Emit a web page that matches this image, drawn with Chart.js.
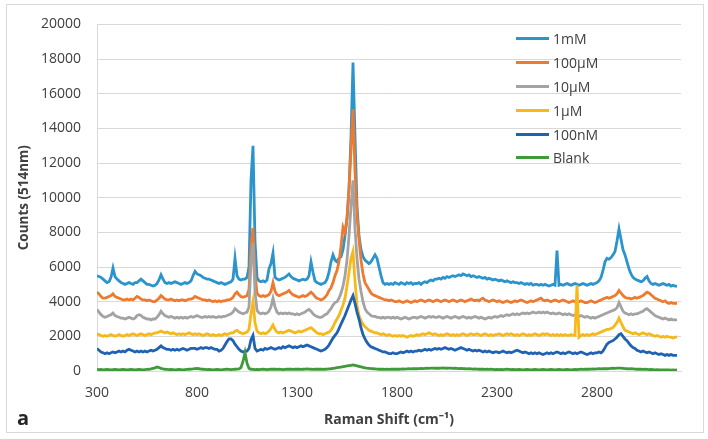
<!DOCTYPE html>
<html>
<head>
<meta charset="utf-8">
<script src="https://cdn.jsdelivr.net/npm/chart.js@4.4.0/dist/chart.umd.min.js"></script>
<style>
  body { margin: 0; background: #fff; font-family: "Open Sans", sans-serif; }
  #wrap { position: relative; width: 708px; height: 439px; }
  #frame { position: absolute; left: 6px; top: 4px; width: 696px; height: 427px; border: 1px solid #d9d9d9; }
  canvas { position: absolute; left: 0; top: 0; }
  #legend { position: absolute; left: 516px; top: 27px; }
  .item { height: 23.8px; display: flex; align-items: center; font-size: 14px; color: #404040; }
  .swatch { width: 33px; height: 3px; margin-right: 4px; }
  #panel { position: absolute; left: 17px; top: 404px; font-size: 20px; font-weight: bold; color: #262626; }
</style>
</head>
<body>
<div id="wrap">
  <div id="frame"></div>
  <canvas id="ramanChart" width="708" height="439"></canvas>
  <div id="legend"></div>
  <div id="panel">a</div>
</div>
<script>
// Raman shift axis (cm-1)
const ramanShift = [
  300,310,320,330,340,350,360,370,380,390,
  400,410,420,430,440,450,460,470,480,490,
  500,510,520,530,540,550,560,570,580,590,
  600,610,620,630,640,650,660,670,680,690,
  700,710,720,730,740,750,760,770,780,790,
  800,810,820,830,840,850,860,870,880,890,
  900,910,920,930,940,950,960,970,980,990,
  1000,1010,1020,1030,1040,1050,1060,1070,1080,1090,
  1100,1110,1120,1130,1140,1150,1160,1170,1180,1190,
  1200,1210,1220,1230,1240,1250,1260,1270,1280,1290,
  1300,1310,1320,1330,1340,1350,1360,1370,1380,1390,
  1400,1410,1420,1430,1440,1450,1460,1470,1480,1490,
  1500,1510,1520,1530,1540,1550,1560,1570,1580,1590,
  1600,1610,1620,1630,1640,1650,1660,1670,1680,1690,
  1700,1710,1720,1730,1740,1750,1760,1770,1780,1790,
  1800,1810,1820,1830,1840,1850,1860,1870,1880,1890,
  1900,1910,1920,1930,1940,1950,1960,1970,1980,1990,
  2000,2010,2020,2030,2040,2050,2060,2070,2080,2090,
  2100,2110,2120,2130,2140,2150,2160,2170,2180,2190,
  2200,2210,2220,2230,2240,2250,2260,2270,2280,2290,
  2300,2310,2320,2330,2340,2350,2360,2370,2380,2390,
  2400,2410,2420,2430,2440,2450,2460,2470,2480,2490,
  2500,2510,2520,2530,2540,2550,2560,2570,2580,2590,
  2600,2610,2620,2630,2640,2650,2660,2670,2680,2690,
  2700,2710,2720,2730,2740,2750,2760,2770,2780,2790,
  2800,2810,2820,2830,2840,2850,2860,2870,2880,2890,
  2900,2910,2920,2930,2940,2950,2960,2970,2980,2990,
  3000,3010,3020,3030,3040,3050,3060,3070,3080,3090,
  3100,3110,3120,3130,3140,3150,3160,3170,3180,3190,
  3200
];

const counts1mM = [
  5500,5450,5400,5300,5200,5100,5150,5400,5950,5450,
  5300,5200,5100,5050,5000,5050,5100,5050,5000,5100,
  5100,5200,5300,5200,5100,5000,5000,4950,4900,4950,
  5050,5250,5550,5300,5100,5050,5100,5050,5100,5150,
  5100,5050,5000,5050,5100,5050,5100,5200,5500,5750,
  5600,5550,5500,5400,5350,5300,5300,5250,5200,5150,
  5100,5050,5100,5050,5000,5050,5100,5150,5300,6500,
  5500,5300,5250,5300,5300,5400,6000,11000,13000,7500,
  5400,5200,5150,5200,5150,5250,5900,6200,6800,5400,
  5300,5250,5300,5350,5400,5500,5600,5450,5350,5300,
  5250,5200,5250,5300,5250,5300,5500,6300,5700,5200,
  5100,5050,5000,5050,5100,5300,5700,6300,6700,6400,
  6300,6500,6600,7000,7800,8800,10500,13500,17800,13500,
  9500,7800,7000,6600,6400,6300,6200,6300,6500,6700,
  6500,6000,5500,5100,5000,5050,5000,5050,5000,5100,
  5050,5000,5100,5050,5000,5100,5050,5100,5000,5050,
  5050,5100,5000,5100,5150,5100,5200,5250,5200,5300,
  5300,5350,5300,5400,5350,5450,5400,5450,5500,5450,
  5500,5550,5500,5600,5550,5500,5550,5450,5500,5450,
  5400,5450,5400,5350,5400,5300,5350,5300,5250,5300,
  5250,5200,5250,5200,5150,5200,5150,5100,5150,5100,
  5100,5050,5100,5050,5000,5050,5000,5050,4950,5000,
  5000,4950,5000,4950,5000,4950,4900,4950,5000,4950,
  6950,4950,5000,4950,5000,5050,5000,4950,5000,5050,
  5000,4950,5000,5050,5000,4950,5000,5050,5000,5050,
  5100,5200,5400,5800,6300,6500,6450,6550,6700,6900,
  7500,8200,7600,7000,6700,6300,5900,5600,5400,5300,
  5250,5200,5150,5200,5350,5450,5200,5050,5000,5050,
  5000,4950,5000,5050,5000,4950,5000,4900,4950,4900,
  4900
];

const counts100uM = [
  4550,4450,4300,4200,4200,4250,4300,4350,4450,4300,
  4250,4200,4150,4100,4100,4150,4100,4150,4100,4200,
  4300,4250,4150,4100,4100,4050,4100,4050,4000,4000,
  4100,4200,4350,4250,4150,4100,4100,4150,4100,4050,
  4100,4050,4100,4100,4050,4100,4150,4150,4200,4300,
  4250,4200,4150,4100,4100,4050,4100,4050,4000,4050,
  4000,4050,4000,4050,4050,4100,4100,4150,4250,4450,
  4550,4400,4300,4250,4300,4350,4700,7200,8250,5600,
  4500,4350,4300,4350,4300,4350,4400,4600,5100,4600,
  4400,4350,4400,4450,4500,4550,4650,4500,4400,4350,
  4300,4250,4300,4350,4300,4350,4450,4550,4450,4300,
  4200,4150,4100,4150,4250,4400,4650,4800,5100,5500,
  5800,6300,7200,8300,8000,8800,10500,12800,15100,11500,
  9000,7600,6400,5600,5100,4900,4700,4500,4400,4350,
  4300,4250,4200,4150,4100,4100,4050,4100,4050,4000,
  4000,4050,4000,3950,4000,4050,4000,3950,4000,4050,
  4000,4050,4100,4050,4000,4050,4100,4050,4000,4050,
  4100,4050,4000,4050,4100,4050,4000,4050,4100,4050,
  4000,4050,4100,4050,4000,4050,4100,4150,4100,4050,
  4100,4050,4150,4200,4100,4050,4000,4050,4100,4050,
  4000,4050,4000,3950,4000,4050,4000,3950,4000,4050,
  4000,4050,4100,4050,4000,3950,4000,4050,4000,4050,
  4100,4150,4200,4100,4050,4100,4050,4000,4050,4100,
  4050,4000,4050,4100,4050,4000,3950,4000,4050,4000,
  3950,4000,4050,4000,3950,3950,4000,4050,4000,3950,
  4000,4050,4100,4150,4200,4250,4200,4250,4300,4350,
  4450,4650,4500,4350,4250,4200,4200,4150,4200,4250,
  4200,4250,4300,4350,4450,4550,4500,4400,4300,4200,
  4150,4100,4050,4000,4050,3950,3900,3950,3900,3900,
  3900
];

const counts10uM = [
  3550,3400,3250,3150,3100,3150,3200,3250,3350,3200,
  3150,3100,3050,3050,3000,3050,3100,3050,3000,3050,
  3200,3250,3200,3100,3050,3000,3000,2950,3000,3000,
  3100,3250,3450,3300,3200,3150,3100,3150,3100,3050,
  3100,3050,3100,3050,3100,3050,3100,3150,3100,3150,
  3200,3150,3100,3100,3150,3100,3150,3100,3150,3100,
  3100,3150,3100,3150,3150,3200,3250,3300,3400,3600,
  3500,3400,3350,3300,3350,3400,3700,6300,7400,4600,
  3500,3350,3300,3350,3300,3350,3450,3700,4200,3700,
  3400,3300,3350,3300,3350,3300,3350,3300,3300,3250,
  3300,3250,3300,3350,3400,3500,3550,3450,3300,3200,
  3150,3100,3100,3150,3250,3300,3450,3600,3800,3950,
  4000,4200,4500,4900,5500,6400,7800,9500,11000,8200,
  6500,5300,4600,4000,3600,3400,3300,3200,3150,3150,
  3100,3100,3050,3100,3050,3100,3100,3050,3100,3050,
  3100,3050,3000,3050,3100,3050,3000,3050,3100,3100,
  3050,3100,3150,3100,3050,3100,3150,3100,3150,3100,
  3100,3150,3100,3050,3100,3150,3100,3050,3100,3150,
  3100,3050,3100,3150,3100,3050,3100,3050,3100,3150,
  3100,3050,3100,3050,3000,3050,3100,3050,3100,3150,
  3100,3150,3200,3150,3200,3250,3200,3250,3300,3250,
  3300,3250,3300,3350,3300,3350,3300,3350,3400,3350,
  3350,3400,3350,3400,3350,3400,3350,3300,3350,3300,
  3300,3350,3300,3250,3300,3250,3300,3250,3200,3250,
  3200,3150,3200,3150,3100,3150,3100,3050,3100,3050,
  3100,3150,3200,3250,3300,3350,3400,3450,3500,3550,
  3650,3950,3700,3450,3350,3300,3250,3300,3250,3300,
  3300,3350,3400,3450,3550,3600,3500,3400,3300,3200,
  3150,3100,3050,3000,3050,3000,2950,3000,2950,2950,
  2950
];

const counts1uM = [
  2150,2100,2050,2000,2050,2000,2050,2100,2050,2000,
  2050,2100,2050,2000,2050,2100,2050,2100,2150,2100,
  2050,2100,2150,2100,2050,2100,2150,2100,2150,2200,
  2200,2250,2300,2250,2200,2250,2200,2150,2200,2150,
  2100,2150,2100,2150,2100,2150,2200,2150,2100,2150,
  2100,2150,2100,2050,2100,2150,2100,2050,2100,2050,
  2050,2100,2050,2100,2150,2100,2150,2200,2200,2300,
  2350,2250,2200,2150,2200,2250,2400,3300,4000,2800,
  2300,2200,2150,2200,2150,2200,2300,2450,2650,2400,
  2250,2200,2250,2200,2250,2300,2350,2300,2250,2200,
  2250,2300,2250,2300,2350,2400,2450,2500,2400,2300,
  2200,2150,2150,2100,2150,2200,2250,2350,2550,2800,
  3000,3200,3500,3800,4200,4900,5700,6500,6900,5200,
  3800,3200,2900,2700,2550,2450,2350,2300,2250,2200,
  2200,2150,2100,2150,2100,2050,2100,2050,2000,2050,
  2000,2050,2000,2050,2000,1950,2000,2050,2000,2050,
  2100,2050,2100,2150,2100,2150,2200,2150,2100,2150,
  2100,2050,2100,2050,2100,2150,2100,2050,2100,2050,
  2100,2050,2100,2150,2100,2050,2100,2150,2100,2100,
  2150,2100,2050,2100,2150,2100,2050,2100,2050,2100,
  2100,2150,2100,2050,2100,2150,2100,2150,2100,2050,
  2100,2050,2100,2150,2100,2050,2100,2050,2100,2150,
  2100,2050,2100,2150,2100,2150,2100,2050,2100,2050,
  2100,2050,2100,2050,2100,2050,2050,2100,2050,2050,
  4950,1950,2050,2100,2050,2100,2050,2100,2150,2100,
  2150,2200,2250,2300,2350,2400,2400,2450,2500,2650,
  2800,3050,2800,2550,2350,2300,2250,2200,2150,2200,
  2150,2100,2150,2200,2150,2100,2150,2100,2050,2000,
  2050,2000,1950,2000,1950,2000,1950,1950,1900,1950,
  1950
];

const counts100nM = [
  1300,1200,1100,1050,1000,1050,1000,1050,1100,1050,
  1100,1150,1100,1150,1100,1200,1250,1200,1150,1100,
  1150,1100,1150,1100,1150,1100,1150,1200,1150,1200,
  1250,1350,1450,1350,1300,1250,1250,1200,1250,1200,
  1250,1200,1250,1300,1250,1200,1250,1300,1300,1300,
  1250,1300,1350,1300,1350,1350,1300,1350,1300,1250,
  1250,1150,1200,1300,1500,1700,1850,1850,1750,1550,
  1400,1250,1150,1100,1150,1150,1300,1800,2050,1300,
  1150,1200,1250,1200,1300,1250,1300,1350,1300,1250,
  1300,1350,1300,1400,1350,1400,1450,1400,1350,1400,
  1350,1400,1450,1400,1450,1500,1450,1400,1350,1300,
  1250,1200,1150,1200,1250,1350,1500,1700,1900,2050,
  2200,2450,2700,2950,3200,3500,3800,4100,4350,3900,
  3400,3000,2500,2100,1850,1650,1500,1400,1350,1300,
  1250,1200,1150,1100,1100,1050,1000,1000,1050,1000,
  1000,1050,1100,1050,1100,1150,1100,1150,1100,1150,
  1150,1200,1150,1200,1250,1200,1250,1200,1250,1300,
  1250,1300,1250,1300,1350,1300,1250,1300,1250,1200,
  1250,1300,1350,1300,1250,1200,1250,1200,1150,1200,
  1150,1200,1150,1100,1150,1100,1150,1100,1050,1100,
  1100,1050,1100,1150,1100,1050,1100,1050,1100,1150,
  1200,1150,1100,1050,1100,1050,1000,1050,1000,1050,
  1000,1050,1000,950,1000,1050,1000,1050,1000,1050,
  1100,1050,1000,1050,1000,1050,1100,1050,1000,1050,
  1000,1050,1100,1050,1000,950,1000,1050,1000,1050,
  1050,1100,1050,1150,1350,1550,1650,1700,1750,1850,
  1950,2100,2150,2000,1850,1750,1600,1450,1350,1300,
  1200,1150,1100,1150,1100,1050,1100,1050,1000,1050,
  1000,950,1000,950,900,950,900,950,900,900,
  900
];

const countsBlank = [
  100,80,90,70,80,90,80,70,80,90,
  80,70,80,90,80,70,80,90,80,70,
  80,90,80,70,80,90,100,120,150,180,
  230,200,150,120,100,90,80,90,80,70,
  80,90,80,70,80,90,100,110,120,140,
  150,130,110,100,90,80,90,80,70,80,
  90,80,70,80,90,100,90,80,90,100,
  110,120,200,550,1070,450,150,100,90,80,
  90,80,90,100,90,80,90,100,110,100,
  90,100,90,80,90,100,110,100,90,100,
  110,100,90,100,110,120,110,100,90,100,
  100,110,100,90,100,110,120,130,150,170,
  190,210,230,250,270,290,310,330,350,330,
  300,270,240,210,180,160,150,140,130,120,
  110,100,110,100,90,100,90,100,110,100,
  110,100,110,120,110,120,130,120,130,140,
  130,140,150,140,150,160,150,160,170,160,
  170,160,170,180,170,160,170,160,150,160,
  150,140,150,140,130,120,130,120,110,120,
  110,100,110,100,90,100,90,100,90,80,
  90,80,90,80,90,100,90,80,90,80,
  80,90,80,70,80,90,80,70,80,90,
  80,70,80,90,80,70,80,90,80,70,
  80,90,80,70,80,90,80,70,80,90,
  80,90,100,90,100,110,100,110,120,110,
  120,130,120,130,140,130,140,150,160,150,
  160,170,160,150,140,130,120,130,120,110,
  100,110,100,90,100,90,80,90,80,70,
  80,70,60,70,60,70,60,50,60,50,
  60
];

const seriesNames = ['1mM', '100µM', '10µM', '1µM', '100nM', 'Blank'];
const seriesColors = ['#2b94cc', '#ee7a30', '#a3a3a3', '#f7b81a', '#1f62b3', '#3f9b3a'];
const seriesCounts = [counts1mM, counts100uM, counts10uM, counts1uM, counts100nM, countsBlank];
const shiftTicks = [300, 800, 1300, 1800, 2300, 2800];

const fontFamily = '"Open Sans", sans-serif';
const textColor = '#404040';
const gridColor = '#d9d9d9';

// build datasets (later series drawn on top, like the original)
const datasets = seriesNames.map((name, i) => ({
    label: name,
    data: seriesCounts[i].map((c, j) => ({ x: ramanShift[j], y: c })),
    borderColor: seriesColors[i],
    backgroundColor: seriesColors[i],
    borderWidth: 2.8,
    pointRadius: 0,
    tension: 0,
    order: seriesNames.length - i
}));

new Chart(document.getElementById('ramanChart'), {
    type: 'line',
    data: { datasets: datasets },
    options: {
        responsive: false,
        animation: false,
        devicePixelRatio: 1,
        layout: { padding: { left: 6, top: 16, right: 27, bottom: 11 } },
        plugins: { legend: { display: false }, tooltip: { enabled: false } },
        scales: {
            x: {
                type: 'linear',
                min: 300,
                max: 3220,
                grid: { display: false, drawTicks: false },
                border: { display: true, color: gridColor, width: 1 },
                ticks: {
                    padding: 14,
                    color: textColor,
                    maxRotation: 0,
                    font: { family: fontFamily, size: 14 },
                    callback: v => String(v)
                },
                afterBuildTicks: axis => { axis.ticks = shiftTicks.map(v => ({ value: v })); },
                afterFit: axis => { axis.height = 57; },
                title: {
                    display: true,
                    text: 'Raman Shift (cm⁻¹)',
                    color: textColor,
                    font: { family: fontFamily, size: 14, weight: 'bold' },
                    padding: 0
                }
            },
            y: {
                min: 0,
                max: 20000,
                grid: { color: gridColor, drawTicks: false },
                border: { display: true, color: gridColor, width: 1 },
                ticks: {
                    stepSize: 2000,
                    padding: 16,
                    color: textColor,
                    font: { family: fontFamily, size: 14 },
                    callback: v => String(v)
                },
                afterFit: axis => { axis.width = 91; },
                title: {
                    display: true,
                    text: 'Counts (514nm)',
                    color: textColor,
                    font: { family: fontFamily, size: 13.5, weight: 'bold' },
                    padding: { top: 10, bottom: 0 }
                }
            }
        }
    }
});

// legend inside the plot, top right
document.getElementById('legend').innerHTML = seriesNames.map((name, i) => `
    <div class="item"><span class="swatch" style="background:${seriesColors[i]}"></span>${name}</div>
`).join('');
</script>
</body>
</html>
